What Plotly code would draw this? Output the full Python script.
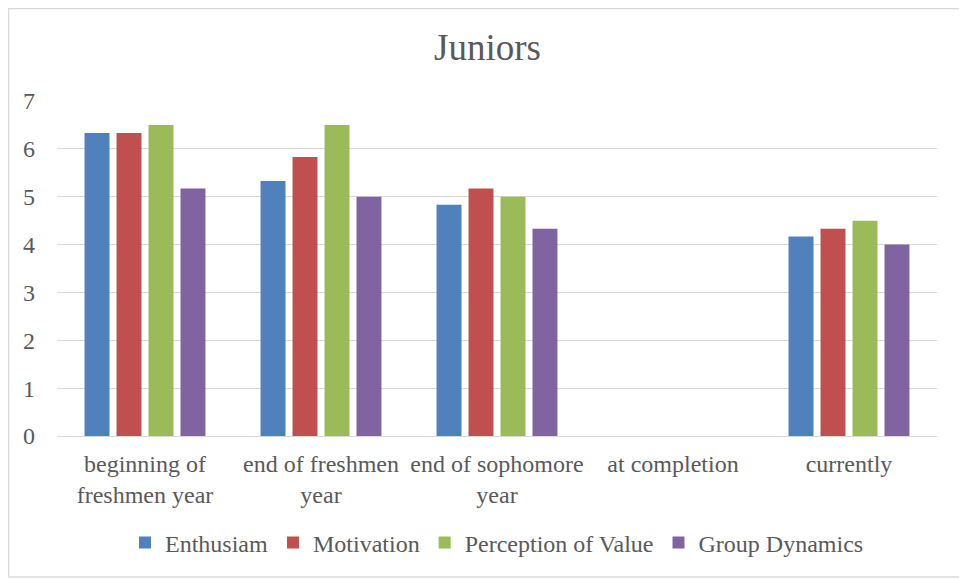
import plotly.graph_objects as go

categories = ["beginning of<br>freshmen year", "end of freshmen<br>year", "end of sophomore<br>year", "at completion", "currently"]
enthusiam = [6.33, 5.33, 4.83, None, 4.17]
motivation = [6.33, 5.83, 5.17, None, 4.33]
perception = [6.5, 6.5, 5.0, None, 4.5]
group_dyn = [5.17, 5.0, 4.33, None, 4.0]

series = [
    ("Enthusiam", enthusiam, "#4F81BD"),
    ("Motivation", motivation, "#C0504D"),
    ("Perception of Value", perception, "#9BBB59"),
    ("Group Dynamics", group_dyn, "#8064A2"),
]

fig = go.Figure()
for name, vals, col in series:
    fig.add_trace(go.Bar(x=categories, y=vals, name=name, marker=dict(color=col, line=dict(width=0))))

# page body has an 8px offset; figure coordinates = screen - 8
OFF = 8
W, H = 967 - OFF, 580 - OFF
ml, mr, mt, mb = 57 - OFF, 30, 101 - OFF, 144
pw, ph = W - ml - mr, H - mt - mb

FONT = "Liberation Serif"

fig.update_layout(
    width=W, height=H,
    margin=dict(l=ml, r=mr, t=mt, b=mb, autoexpand=False),
    paper_bgcolor="white", plot_bgcolor="white",
    font=dict(family=FONT, color="#595959", size=24),
    title=dict(text="Juniors", x=0.5, xanchor="center", y=1 - (47 - OFF)/H, yanchor="middle",
               font=dict(family=FONT, size=37, color="#595959")),
    barmode="group", bargap=0.273, bargroupgap=0.22,
    showlegend=True,
    legend=dict(orientation="h", x=0.5, xanchor="center", y=-(543 - 436)/ph, yanchor="middle",
                font=dict(family=FONT, size=24, color="#595959"), itemwidth=30, traceorder="normal"),
    xaxis=dict(showgrid=False, showline=True, linecolor="#D9D9D9", linewidth=1,
               ticks="", ticklabelstandoff=6, tickfont=dict(family=FONT, size=24, color="#595959")),
    yaxis=dict(range=[0, 7], dtick=1, showgrid=True, gridcolor="#D9D9D9", gridwidth=1,
               zeroline=False, showline=False, ticks="", ticklen=0, ticklabelstandoff=21,
               tickfont=dict(family=FONT, size=24, color="#595959")),
    shapes=[dict(type="rect", xref="paper", yref="paper",
                 x0=(0.5 - ml)/pw, x1=(965 - OFF - ml)/pw,
                 y0=(H - mb - (577 - OFF))/ph, y1=(H - mb - 0.5)/ph,
                 line=dict(color="#D9D9D9", width=1.5), fillcolor="rgba(0,0,0,0)", layer="below")],
)

fig.write_html("out.html")
